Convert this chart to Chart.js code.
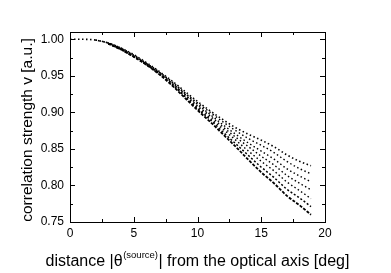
<!DOCTYPE html>
<html>
<head>
<meta charset="utf-8">
<script src="https://cdn.jsdelivr.net/npm/chart.js@4.4.1/dist/chart.umd.min.js"></script>
<style>
  html, body { margin: 0; padding: 0; background: #fff; }
  #wrap { width: 391px; height: 273px; }
</style>
</head>
<body>
<div id="wrap"><canvas id="c" width="391" height="273"></canvas></div>
<script>
const angles = [0, 1, 2, 3, 4, 5, 6, 7, 8, 9, 10, 11, 12, 13, 14, 15, 16, 17, 18, 18.9];

// correlation strength, from the top edge of the band to the bottom edge
// (null = that curve is hidden under the others there)
const curveTop = [1.000, 1.000, 0.999, 0.995, 0.988, 0.979, 0.968, 0.956, 0.943, 0.929, 0.915, 0.902, 0.890, 0.879, 0.870, 0.862, 0.853, 0.842, 0.833, 0.827];
const curveB   = [null, null, 0.999, 0.995, 0.988, 0.978, 0.967, 0.955, 0.942, 0.927, 0.913, 0.900, 0.887, 0.875, 0.864, 0.855, 0.845, 0.833, 0.823, 0.816];
const curveC   = [null, null, 0.999, 0.995, 0.987, 0.978, 0.967, 0.955, 0.941, 0.926, 0.911, 0.897, 0.883, 0.870, 0.858, 0.847, 0.836, 0.823, 0.813, 0.805];
const curveD   = [null, null, null, 0.994, 0.987, 0.977, 0.966, 0.954, 0.940, 0.925, 0.909, 0.895, 0.880, 0.866, 0.853, 0.840, 0.828, 0.814, 0.803, 0.794];
const curveE   = [null, null, null, 0.994, 0.987, 0.977, 0.966, 0.953, 0.939, 0.923, 0.907, 0.892, 0.877, 0.862, 0.847, 0.833, 0.820, 0.805, 0.793, 0.782];
const curveF   = [null, null, null, 0.994, 0.986, 0.976, 0.965, 0.953, 0.938, 0.922, 0.905, 0.890, 0.873, 0.857, 0.841, 0.825, 0.811, 0.795, 0.783, 0.771];
const curveLow = [null, null, null, 0.994, 0.986, 0.976, 0.965, 0.952, 0.937, 0.920, 0.903, 0.887, 0.870, 0.853, 0.835, 0.818, 0.803, 0.786, 0.773, 0.760];

const xMajor = [0, 5, 10, 15, 20];
const xMinor = [2.5, 7.5, 12.5, 17.5];
const yMajor = [0.75, 0.80, 0.85, 0.90, 0.95, 1.00];
const yMinor = [0.775, 0.825, 0.875, 0.925, 0.975];

const FONT = '"Liberation Sans", Arial, Helvetica, sans-serif';

function toPoints(ys) {
    return angles.map((a, i) => ({ x: a, y: ys[i] }));
}

function curve(ys, dash, width) {
    return {
        data: toPoints(ys),
        borderColor: '#000',
        borderWidth: width,
        borderDash: dash,
        pointRadius: 0,
        cubicInterpolationMode: 'monotone',
        fill: false
    };
}

// inward ticks on all four sides, frame and axis titles
const framePlugin = {
    id: 'frame',
    afterDraw(chart) {
        const ctx = chart.ctx;
        const a = chart.chartArea;
        const xs = chart.scales.x, ys = chart.scales.y;
        ctx.save();
        ctx.strokeStyle = '#000';
        ctx.lineWidth = 1;
        ctx.strokeRect(a.left + 0.5, a.top + 0.5, a.right - a.left, a.bottom - a.top);

        ctx.beginPath();
        function xt(v, len) {
            const p = Math.round(xs.getPixelForValue(v)) + 0.5;
            ctx.moveTo(p, a.bottom); ctx.lineTo(p, a.bottom - len);
            ctx.moveTo(p, a.top); ctx.lineTo(p, a.top + len);
        }
        function yt(v, len) {
            const p = Math.round(ys.getPixelForValue(v)) + 0.5;
            ctx.moveTo(a.left, p); ctx.lineTo(a.left + len, p);
            ctx.moveTo(a.right, p); ctx.lineTo(a.right - len, p);
        }
        xMajor.forEach(v => xt(v, 5));
        xMinor.forEach(v => xt(v, 3));
        yMajor.forEach(v => yt(v, 5));
        yMinor.forEach(v => yt(v, 3));
        ctx.stroke();

        // y title
        ctx.fillStyle = '#000';
        ctx.font = '15.5px ' + FONT;
        ctx.textAlign = 'center';
        ctx.textBaseline = 'middle';
        ctx.save();
        ctx.translate(28, 130);
        ctx.rotate(-Math.PI / 2);
        ctx.fillText('correlation strength v [a.u.]', 0, 0);
        ctx.restore();

        // x title with superscript
        const p1 = 'distance |\u03b8', sup = '(source)', p2 = '| from the optical axis [deg]';
        ctx.textAlign = 'left';
        ctx.textBaseline = 'alphabetic';
        ctx.font = '16px ' + FONT;
        const w1 = ctx.measureText(p1).width, w3 = ctx.measureText(p2).width;
        ctx.font = '9.5px ' + FONT;
        const w2 = ctx.measureText(sup).width;
        let x0 = 197 - (w1 + w2 + w3) / 2;
        const base = 266;
        ctx.font = '16px ' + FONT;
        ctx.fillText(p1, x0, base);
        ctx.font = '9.5px ' + FONT;
        ctx.fillText(sup, x0 + w1 + 0.5, base - 8);
        ctx.font = '16px ' + FONT;
        ctx.fillText(p2, x0 + w1 + w2 + 1, base);
        ctx.restore();
    }
};

new Chart(document.getElementById('c'), {
    type: 'line',
    data: {
        datasets: [
            curve(curveTop, [1.5, 2.5], 1.6),
            curve(curveB, [1.5, 2.5], 1.4),
            curve(curveC, [1.5, 2.5], 1.4),
            curve(curveD, [1.5, 2.5], 1.4),
            curve(curveE, [1.5, 2.5], 1.4),
            curve(curveF, [2, 2], 1.5),
            curve(curveLow, [3, 1.5], 1.8)
        ]
    },
    options: {
        responsive: false,
        animation: false,
        events: [],
        layout: { padding: { top: 32, right: 66, left: 0, bottom: 0 } },
        plugins: { legend: { display: false }, tooltip: { enabled: false } },
        scales: {
            x: {
                type: 'linear',
                min: 0, max: 20,
                grid: { display: false, drawTicks: false },
                border: { display: false },
                ticks: {
                    stepSize: 5, padding: 4,
                    color: '#000',
                    font: { family: FONT, size: 12 }
                },
                afterFit(scale) { scale.height = 51; }
            },
            y: {
                type: 'linear',
                min: 0.75, max: 1.01,
                grid: { display: false, drawTicks: false },
                border: { display: false },
                ticks: {
                    padding: 6,
                    color: '#000',
                    font: { family: FONT, size: 12 },
                    callback: v => yMajor.some(m => Math.abs(m - v) < 1e-6) ? v.toFixed(2) : null
                },
                afterBuildTicks(scale) {
                    scale.ticks = yMajor.map(v => ({ value: v }));
                },
                afterFit(scale) { scale.width = 70; }
            }
        }
    },
    plugins: [framePlugin]
});
</script>
</body>
</html>
